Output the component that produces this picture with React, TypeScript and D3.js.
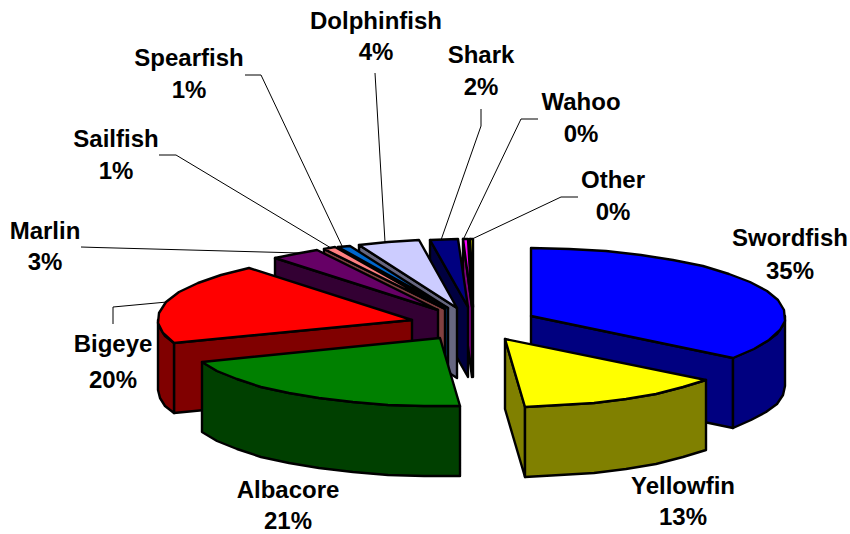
import React, { useMemo } from "react";
import * as d3 from "d3";

// Catch by species, share of the total in percent
const species = ["Swordfish", "Yellowfin", "Albacore", "Bigeye", "Marlin", "Sailfish", "Spearfish", "Dolphinfish", "Shark", "Wahoo", "Other"];
const shares = [35.4, 13.3, 20.6, 19.6, 3.2, 0.8, 0.8, 3.9, 1.8, 0.35, 0.25];
const topColors = ["#0000ff", "#ffff00", "#008000", "#ff0000", "#660066", "#ff8080", "#0066cc", "#ccccff", "#000080", "#ff00ff", "#ffff00"];
const sideColors = ["#000080", "#808000", "#004000", "#800000", "#330033", "#804040", "#003366", "#666680", "#000040", "#800080", "#808000"];

// Painter's order, far slices first
const paintOrder = ["Other", "Wahoo", "Shark", "Dolphinfish", "Spearfish", "Sailfish", "Marlin", "Bigeye", "Swordfish", "Albacore", "Yellowfin"];

// Label text centres: [x, name baseline, percent baseline]
const labelPlacement: Record<string, [number, number, number]> = {
  Swordfish: [790, 246, 279],
  Yellowfin: [683, 494, 525],
  Albacore: [288, 498, 529],
  Bigeye: [113, 352, 388],
  Marlin: [45, 239, 270],
  Sailfish: [116, 147, 179],
  Spearfish: [189, 66, 98],
  Dolphinfish: [376, 29, 60],
  Shark: [481, 63, 95],
  Wahoo: [581, 110, 142],
  Other: [613, 188, 220],
};

// Leader lines from label to slice rim
const leaders: Record<string, [number, number][]> = {
  Spearfish: [[245, 75], [261, 75], [343, 248]],
  Sailfish: [[159, 155], [176, 155], [331, 248]],
  Marlin: [[81, 247], [97, 247.5], [300, 253]],
  Dolphinfish: [[375, 73], [385, 242]],
  Shark: [[481, 109], [481, 126], [441, 240]],
  Wahoo: [[538, 119], [521, 119], [463, 240]],
  Other: [[578, 197], [561, 197], [470, 240]],
  Bigeye: [[113, 324], [113, 307], [167, 302]],
};

const width = 850;
const height = 534;
const cx = 474;
const cy = 324;
const rx = 254;
const ry = 68;
const depth = 70;
const explode = 64;
const stepAngle = (9 * Math.PI) / 180;

type Pt = [number, number];

const project = (a: number, r: number): Pt => [r * Math.sin(a), (-r * Math.cos(a) * ry) / rx];

// Rim sampled as a coarse polyline, giving the faceted outline of the slices
function rimPoints(a0: number, a1: number, ox: number, oy: number): Pt[] {
  const n = Math.max(1, Math.ceil((a1 - a0) / stepAngle));
  return d3.range(n + 1).map((i) => {
    const a = a0 + ((a1 - a0) * i) / n;
    const [x, y] = project(a, rx);
    return [Math.round(ox + x), Math.round(oy + y)] as Pt;
  });
}

const toPath = d3.line<Pt>().x((d) => d[0]).y((d) => d[1]);
const closed = (pts: Pt[]) => (toPath(pts) ?? "") + "Z";
const drop = (pts: Pt[]): Pt[] => pts.map(([x, y]) => [x, y + depth] as Pt);

const EDGE = { stroke: "#000", strokeWidth: 2.4, strokeLinejoin: "round" as const };

export default function App() {
  const slices = useMemo(() => {
    const arcs = d3.pie<number>().sort(null).startAngle(0).endAngle(2 * Math.PI)(shares);
    return arcs.map((arc, i) => {
      const mid = (arc.startAngle + arc.endAngle) / 2;
      const [ex, ey] = project(mid, explode);
      const ox = cx + ex;
      const oy = cy + ey;
      const apex: Pt = [Math.round(ox), Math.round(oy)];
      const rim = rimPoints(arc.startAngle, arc.endAngle, ox, oy);
      const faces: { d: string; fill: string }[] = [];

      // Radial walls turned towards the viewer
      if (Math.sin(arc.startAngle) < -1e-6) {
        const p = rim[0];
        faces.push({ d: closed([apex, p, ...drop([p, apex])]), fill: sideColors[i] });
      }
      if (Math.sin(arc.endAngle) > 1e-6) {
        const p = rim[rim.length - 1];
        faces.push({ d: closed([apex, p, ...drop([p, apex])]), fill: sideColors[i] });
      }

      // Outer rim over the front half of the ellipse
      const front0 = Math.max(arc.startAngle, Math.PI / 2);
      const front1 = Math.min(arc.endAngle, (3 * Math.PI) / 2);
      if (front1 > front0) {
        const outer = rimPoints(front0, front1, ox, oy);
        faces.push({ d: closed([...outer, ...drop(outer).reverse()]), fill: sideColors[i] });
      }

      faces.push({ d: closed([apex, ...rim]), fill: topColors[i] });
      return { name: species[i], value: shares[i], faces };
    });
  }, []);

  const byName = d3.index(slices, (s) => s.name);
  const pct = d3.format(".0f");

  return (
    <svg
      width={width}
      height={height}
      viewBox={`0 0 ${width} ${height}`}
      style={{ position: "absolute", left: 0, top: 0, background: "#fff" }}
    >
      <g fill="none" stroke="#000" strokeWidth={1}>
        {Object.entries(leaders).map(([name, pts]) => (
          <path key={name} d={toPath(pts) ?? ""} />
        ))}
      </g>
      {paintOrder.map((name) => (
        <g key={name}>
          {byName.get(name)!.faces.map((f, k) => (
            <path key={k} d={f.d} fill={f.fill} {...EDGE} />
          ))}
        </g>
      ))}
      <g fontFamily="'Liberation Sans', Arial, sans-serif" fontWeight="bold" fontSize={24} textAnchor="middle" fill="#000">
        {slices.map((s) => {
          const [x, y1, y2] = labelPlacement[s.name];
          return (
            <g key={s.name}>
              <text x={x} y={y1}>{s.name}</text>
              <text x={x} y={y2}>{pct(s.value)}%</text>
            </g>
          );
        })}
      </g>
    </svg>
  );
}
